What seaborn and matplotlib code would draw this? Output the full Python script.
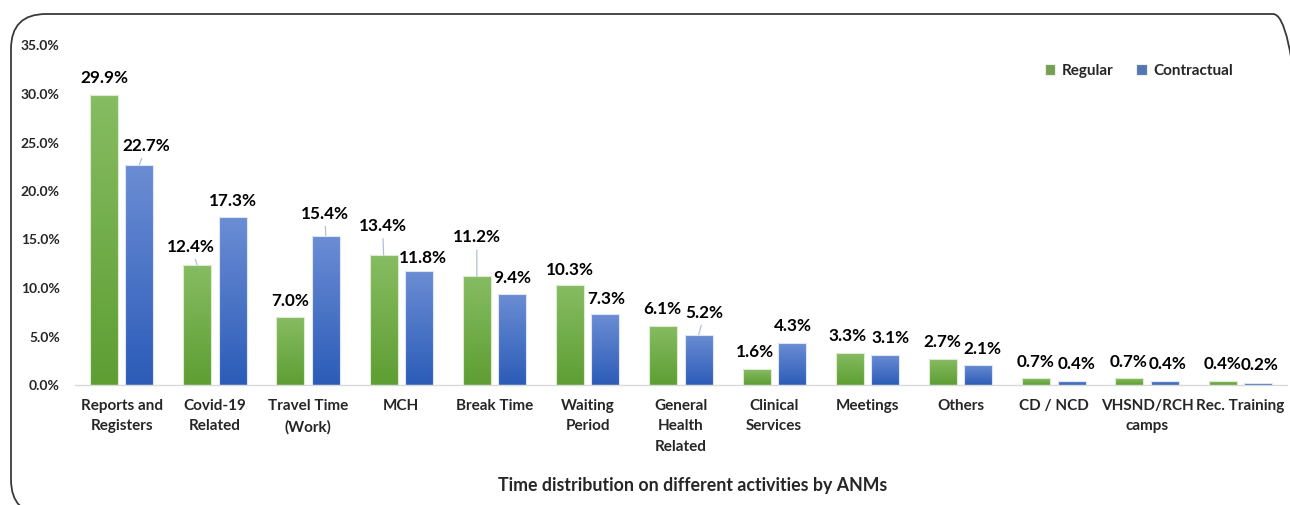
import numpy as np
import pandas as pd
import seaborn as sns
import matplotlib.pyplot as plt
from matplotlib.patches import FancyBboxPatch
from matplotlib.colors import LinearSegmentedColormap
from matplotlib.transforms import IdentityTransform

# data
activities = ['Reports and\nRegisters', 'Covid-19\nRelated', 'Travel Time\n(Work)', 'MCH',
              'Break Time', 'Waiting\nPeriod', 'General\nHealth\nRelated', 'Clinical\nServices',
              'Meetings', 'Others', 'CD / NCD', 'VHSND/RCH\ncamps', 'Rec. Training']
regular = [29.9, 12.4, 7.0, 13.4, 11.2, 10.3, 6.1, 1.6, 3.3, 2.7, 0.7, 0.7, 0.4]
contractual = [22.7, 17.3, 15.4, 11.8, 9.4, 7.3, 5.2, 4.3, 3.1, 2.1, 0.4, 0.4, 0.2]
groups = ['Regular', 'Contractual']
yticks = [0, 5, 10, 15, 20, 25, 30, 35]

df = pd.DataFrame({
    'activity': activities * 2,
    'share': regular + contractual,
    'group': [groups[0]] * len(activities) + [groups[1]] * len(activities),
})

# styling
colors = {'Regular': '#70AD47', 'Contractual': '#4472C4'}
gradients = {'Regular': ('#5E9E33', '#86BC62'), 'Contractual': ('#2C5CB8', '#6B8DD4')}
# label nudges in pixels (dx, dy above bar top) and leader-line flags
nudges = {
    'Regular': [(0, 17), (-6, 18), (0, 16), (-1, 29), (0, 39), (0, 15), (-1, 17),
                (-2, 17), (-2, 17), (-1, 17), (-1, 16), (-1, 16), (0, 17)],
    'Contractual': [(7, 19), (0, 16), (-1, 22), (4, 13), (0, 16), (1, 15), (6, 22),
                    (1, 17), (5, 17), (4, 16), (5, 17), (3, 17), (1, 18)],
}
leaders = {'Regular': [1, 3, 4], 'Contractual': [0, 2, 6]}

sns.set_theme(style='white')
plt.rcParams['font.family'] = ['Lato', 'DejaVu Sans']
plt.rcParams['font.weight'] = 'bold'

W, H = 1290, 505
fig = plt.figure(figsize=(W / 100, H / 100), dpi=100)
ax = fig.add_axes([75 / W, 1 - 385 / H, 1212 / W, (385 - 45.5) / H])

sns.barplot(data=df, x='activity', y='share', hue='group', palette=colors,
            width=0.76, gap=0.21, edgecolor='#EAF0E4', linewidth=0.8, ax=ax)

ax.set_xlim(-0.5, len(activities) - 0.5)
ax.set_ylim(0, 35)

# gradient fill inside every bar
for cont, grp in zip(ax.containers, groups):
    cmap = LinearSegmentedColormap.from_list(grp, gradients[grp])
    for bar in cont:
        x0, y0 = bar.get_x(), bar.get_y()
        w, h = bar.get_width(), bar.get_height()
        im = ax.imshow(np.linspace(0, 1, 64).reshape(-1, 1), cmap=cmap, origin='lower',
                       extent=[x0, x0 + w, y0, y0 + h], aspect='auto',
                       zorder=bar.get_zorder() - 0.01)
        im.set_clip_path(bar)
        bar.set_facecolor('none')
        bar.set_edgecolor('#DDE6F2' if grp == 'Contractual' else '#DCEBD2')

ax.set_xlim(-0.5, len(activities) - 0.5)
ax.set_ylim(0, 35)

# data labels
for cont, grp in zip(ax.containers, groups):
    for i, bar in enumerate(cont):
        dx, dy = nudges[grp][i]
        v = bar.get_height()
        arrow = None
        if i in leaders[grp]:
            arrow = dict(arrowstyle='-', color='#AFC0DA', lw=0.9, shrinkA=1, shrinkB=0)
        ax.annotate(f'{v:.1f}%', xy=(bar.get_x() + bar.get_width() / 2, v),
                    xytext=(dx * 0.72, dy * 0.72), textcoords='offset points',
                    ha='center', va='center', fontsize=12.3, fontweight='bold',
                    color='black', arrowprops=arrow)

ax.set_yticks(yticks)
ax.set_yticklabels([f'{t:.1f}%' for t in yticks], fontsize=10, fontweight='bold')
ax.set_xticks(range(len(activities)), activities, fontsize=11, fontweight='bold',
              linespacing=1.6, va='top')
ax.tick_params(axis='y', length=0, pad=11)
ax.tick_params(axis='x', length=0, pad=10)
ax.set_xlabel('')
ax.set_ylabel('')
ax.grid(False)
for side in ['top', 'right', 'left']:
    ax.spines[side].set_visible(False)
ax.spines['bottom'].set_color('#D9D9D9')
ax.spines['bottom'].set_linewidth(1)

handles, labels = ax.get_legend_handles_labels()
ax.legend(handles, labels, loc='center left', bbox_to_anchor=(0.8, 0.925), ncol=2,
          frameon=False, handlelength=0.7, handleheight=0.7,
          handletextpad=0.4, columnspacing=1.5, borderaxespad=0, borderpad=0,
          prop={'weight': 'bold', 'size': 11})

fig.text(693 / W, 1 - 485 / H, 'Time distribution on different activities by ANMs',
         ha='center', va='center', fontsize=12.8, fontweight='bold')

# rounded chart border
border = FancyBboxPatch((11, -9.5), 1297, 500.5, boxstyle='round,pad=0,rounding_size=35',
                        transform=IdentityTransform(), fill=False,
                        edgecolor='#3A3A3A', linewidth=1.3)
fig.add_artist(border)

fig.savefig('out.png', dpi=100)
